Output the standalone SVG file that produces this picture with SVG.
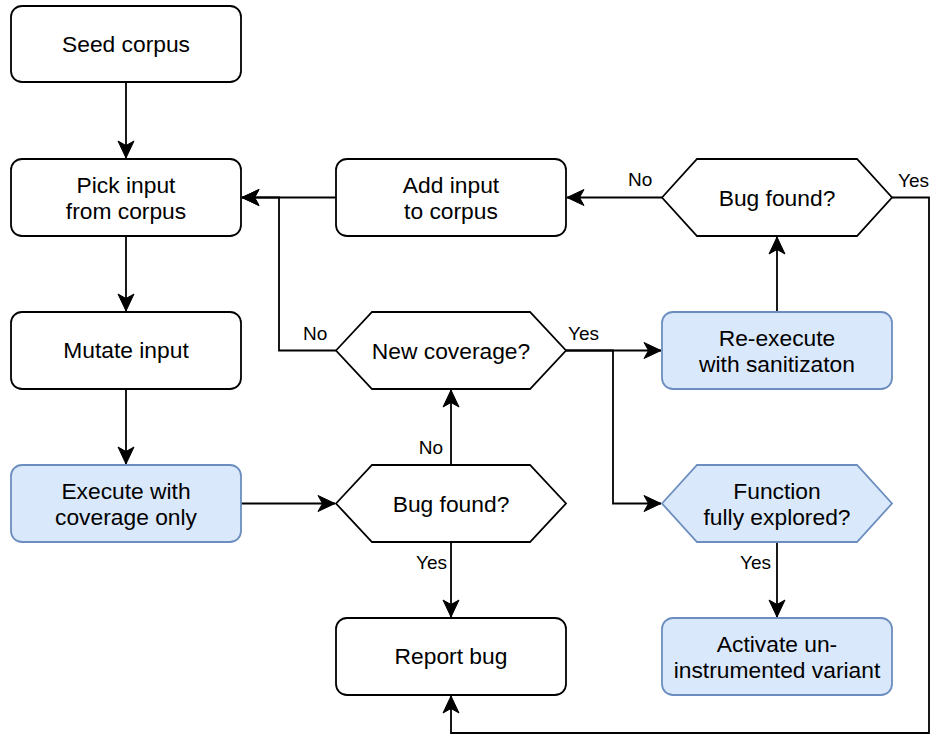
<svg xmlns="http://www.w3.org/2000/svg" width="934" height="736" viewBox="0 0 934 736">
<style>
.n{fill:#ffffff;stroke:#000000;stroke-width:1.8}
.b{fill:#dae8fc;stroke:#6c8ebf;stroke-width:1.8}
.t{font-family:"Liberation Sans",Arial,Helvetica,sans-serif;font-size:22.8px;fill:#000000;text-anchor:middle}
.l{font-family:"Liberation Sans",Arial,Helvetica,sans-serif;font-size:19px;fill:#000000}
.c{fill:none;stroke:#000000;stroke-width:1.8}
</style>
<defs>
<marker id="arr" markerUnits="userSpaceOnUse" markerWidth="20" markerHeight="20" viewBox="-18 -10 20 20" refX="0" refY="0" orient="auto">
<path d="M0,0 L-17,-8 L-12.5,0 L-17,8 Z" fill="#000000" stroke="#000000" stroke-width="1"/>
</marker>
</defs>
<rect width="934" height="736" fill="#ffffff"/>
<g id="connectors">
<path class="c" d="M126,82 V158" marker-end="url(#arr)"/>
<path class="c" d="M126,236 V311" marker-end="url(#arr)"/>
<path class="c" d="M126,389 V464" marker-end="url(#arr)"/>
<path class="c" d="M241,503.5 H335" marker-end="url(#arr)"/>
<path class="c" d="M451,542 V617" marker-end="url(#arr)"/>
<path class="c" d="M451,465 V390" marker-end="url(#arr)"/>
<path class="c" d="M336,350.5 H279 V197.5 H242" marker-end="url(#arr)"/>
<path class="c" d="M336,197.5 H242" marker-end="url(#arr)"/>
<path class="c" d="M662,197.5 H567" marker-end="url(#arr)"/>
<path class="c" d="M777,312 V237" marker-end="url(#arr)"/>
<path class="c" d="M566,350.5 H661" marker-end="url(#arr)"/>
<path class="c" d="M566,350.5 H613 V503.5 H661" marker-end="url(#arr)"/>
<path class="c" d="M777,542 V617" marker-end="url(#arr)"/>
<path class="c" d="M892,197.5 H929 V733 H451 V696" marker-end="url(#arr)"/>
<text class="l" x="443" y="454" text-anchor="end">No</text>
<text class="l" x="447" y="569" text-anchor="end">Yes</text>
<text class="l" x="303" y="340">No</text>
<text class="l" x="568" y="340">Yes</text>
<text class="l" x="628" y="186">No</text>
<text class="l" x="898" y="187">Yes</text>
<text class="l" x="740" y="569">Yes</text>
</g>
<g id="seed">
<rect class="n" x="11" y="6" width="230" height="76" rx="11"/>
<text class="t" x="126" y="52">Seed corpus</text>
</g>
<g id="pick">
<rect class="n" x="11" y="159" width="230" height="77" rx="11"/>
<text class="t" x="126" y="193">Pick input</text>
<text class="t" x="126" y="219">from corpus</text>
</g>
<g id="mutate">
<rect class="n" x="11" y="312" width="230" height="77" rx="11"/>
<text class="t" x="126" y="358">Mutate input</text>
</g>
<g id="execute">
<rect class="b" x="11" y="465" width="230" height="77" rx="11"/>
<text class="t" x="126" y="499">Execute with</text>
<text class="t" x="126" y="525">coverage only</text>
</g>
<g id="add">
<rect class="n" x="336" y="159" width="230" height="77" rx="11"/>
<text class="t" x="451" y="193">Add input</text>
<text class="t" x="451" y="219">to corpus</text>
</g>
<g id="bugtop">
<polygon class="n" points="662,197.5 697,159 857,159 892,197.5 857,236 697,236"/>
<text class="t" x="777" y="205.5">Bug found?</text>
</g>
<g id="newcov">
<polygon class="n" points="336,350.5 372,312 530,312 566,350.5 530,389 372,389"/>
<text class="t" x="451" y="358.5">New coverage?</text>
</g>
<g id="reexec">
<rect class="b" x="662" y="312" width="230" height="77" rx="11"/>
<text class="t" x="777" y="346">Re-execute</text>
<text class="t" x="777" y="372">with sanitizaton</text>
</g>
<g id="bugmid">
<polygon class="n" points="336,503.5 372,465 530,465 566,503.5 530,542 372,542"/>
<text class="t" x="451" y="511.5">Bug found?</text>
</g>
<g id="func">
<polygon class="b" points="662,503.5 697,465 857,465 892,503.5 857,542 697,542"/>
<text class="t" x="777" y="499">Function</text>
<text class="t" x="777" y="525">fully explored?</text>
</g>
<g id="report">
<rect class="n" x="336" y="618" width="230" height="77" rx="11"/>
<text class="t" x="451" y="664">Report bug</text>
</g>
<g id="activate">
<rect class="b" x="662" y="618" width="230" height="77" rx="11"/>
<text class="t" x="777" y="652">Activate un-</text>
<text class="t" x="777" y="678">instrumented variant</text>
</g>
</svg>
